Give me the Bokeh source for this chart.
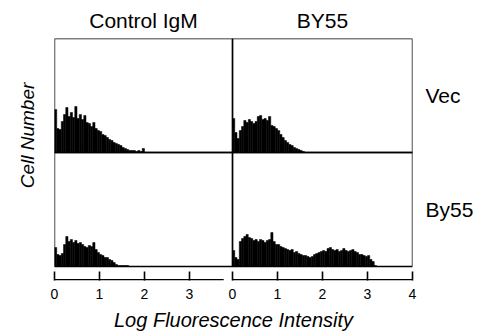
from bokeh.plotting import figure
from bokeh.models import Range1d, BoxAnnotation, FixedTicker, LinearAxis
from bokeh.embed import file_html
from bokeh.resources import INLINE

# ---------------- data (cell counts per log-fluorescence bin) ----------------
bin_width = 0.05
ctrl_igm_vec = [43, 24, 23, 31, 38, 45, 36, 40, 35, 46, 34, 38, 33, 37, 30, 29, 26, 30, 24, 22,
                21, 18, 17, 15, 13, 12, 10, 9, 8, 7, 5, 4, 3, 2, 2, 2, 1, 2, 1, 4]
by55_vec = [34, 20, 14, 22, 26, 32, 30, 33, 31, 29, 31, 36, 37, 33, 34, 32, 36, 27, 26, 24,
            22, 18, 15, 12, 10, 8, 7, 5, 4, 3, 2, 1]
ctrl_igm_by55 = [19, 12, 11, 13, 22, 30, 25, 27, 24, 26, 23, 24, 22, 20, 19, 21, 20, 24, 17, 14,
                 12, 11, 9, 9, 7, 6, 4, 2, 1, 1, 1, 1, 1]
by55_by55 = [16, 9, 7, 25, 28, 30, 32, 29, 28, 26, 27, 25, 27, 26, 24, 26, 27, 34, 25, 22,
             22, 20, 19, 18, 17, 16, 17, 14, 15, 13, 12, 11, 11, 10, 9, 10, 12, 13, 14, 15,
             16, 15, 18, 19, 17, 16, 17, 15, 16, 18, 16, 15, 16, 17, 15, 14, 12, 12, 11, 10,
             11, 7, 5, 1]

col_titles = ["Control IgM", "BY55"]
row_titles = ["Vec", "By55"]
left_ticks = [0, 1, 2, 3]
right_ticks = [0, 1, 2, 3, 4]
x_label = "Log Fluorescence Intensity"
y_label = "Cell Number"

# ---------------- layout constants ----------------
LEFT_W = 3.956     # left column width (log units)
RIGHT_W = 4.0      # right column width (log units)
ROW_H = 114.0      # panel height (count units)
AXIS_GAP = 14.0    # gap between panels and x axis
LEFT_AXIS_END = 3.76
Y_LABEL_POS = 131.0
FONT = "Liberation Sans"

p = figure(width=485, height=336, output_backend="svg", toolbar_location=None,
           x_range=Range1d(0, LEFT_W + RIGHT_W), y_range=Range1d(-AXIS_GAP, 2 * ROW_H),
           y_axis_location=None, min_border_left=54, min_border_right=73,
           min_border_top=38, min_border_bottom=56)
p.outline_line_color = None
p.grid.visible = False
p.background_fill_color = "white"
p.border_fill_color = "white"

panels = [
    (ctrl_igm_vec, 0.0, ROW_H),
    (by55_vec, LEFT_W, ROW_H),
    (ctrl_igm_by55, 0.0, 0.0),
    (by55_by55, LEFT_W, 0.0),
]
for counts, xo, yo in panels:
    lefts = [xo + i * bin_width for i in range(len(counts))]
    rights = [l + bin_width for l in lefts]
    p.quad(left=lefts, right=rights, bottom=[yo] * len(counts),
           top=[yo + c for c in counts], fill_color="black", line_color="black", line_width=0.5)

# panel borders
for (l, r) in [(0.0, LEFT_W), (LEFT_W, LEFT_W + RIGHT_W)]:
    for (b, t) in [(0.0, ROW_H), (ROW_H, 2 * ROW_H)]:
        p.add_layout(BoxAnnotation(left=l, right=r, bottom=b, top=t, fill_color=None,
                                   line_color="black", line_alpha=1.0, line_width=1.4))

# x axis: ticks from both columns on one axis
ticks = [float(t) for t in left_ticks] + [LEFT_W + t for t in right_ticks]
labels = [str(t) for t in left_ticks] + [str(t) for t in right_ticks]
ax = p.xaxis[0]
ax.ticker = FixedTicker(ticks=ticks)
ax.major_label_overrides = {tk: lb for tk, lb in zip(ticks, labels)}
ax.axis_line_color = None
ax.major_tick_in = 9
ax.major_tick_out = 0
ax.major_tick_line_width = 1.6
ax.major_tick_line_color = "black"
ax.minor_tick_line_color = None
ax.major_label_text_font = FONT
ax.major_label_text_font_size = "14px"
ax.major_label_text_color = "black"
ax.major_label_standoff = 8
ax.axis_label = x_label
ax.axis_label_text_font = FONT
ax.axis_label_text_font_style = "italic"
ax.axis_label_text_font_size = "20px"
ax.axis_label_text_color = "black"
ax.axis_label_standoff = 7

# axis baselines (one per column)
p.segment(x0=[0.0, LEFT_W], x1=[LEFT_AXIS_END, LEFT_W + RIGHT_W],
          y0=[-AXIS_GAP + 0.8] * 2, y1=[-AXIS_GAP + 0.8] * 2, line_color="black", line_width=1.6)


def text_axis(ticks_, texts, **kw):
    a = LinearAxis(ticker=FixedTicker(ticks=ticks_),
                   major_label_overrides={t: s for t, s in zip(ticks_, texts)},
                   axis_line_color=None, major_tick_line_color=None, minor_tick_line_color=None,
                   major_tick_in=0, major_tick_out=0,
                   major_label_text_font=FONT, major_label_text_color="black", **kw)
    return a


# column titles (top)
col_centers = [LEFT_W / 2, LEFT_W + RIGHT_W / 2]
p.add_layout(text_axis(col_centers, col_titles, major_label_text_font_size="21px",
                       major_label_standoff=7), "above")

# row titles (right)
row_centers = [ROW_H * 1.5, ROW_H * 0.5]
p.add_layout(text_axis(row_centers, row_titles, major_label_text_font_size="21px",
                       major_label_standoff=13), "right")

# y label (left, rotated)
p.add_layout(text_axis([Y_LABEL_POS], [y_label], major_label_text_font_size="19px",
                       major_label_text_font_style="italic", major_label_orientation="vertical",
                       major_label_standoff=17), "left")

open("out.html", "w").write(file_html(p, INLINE))
